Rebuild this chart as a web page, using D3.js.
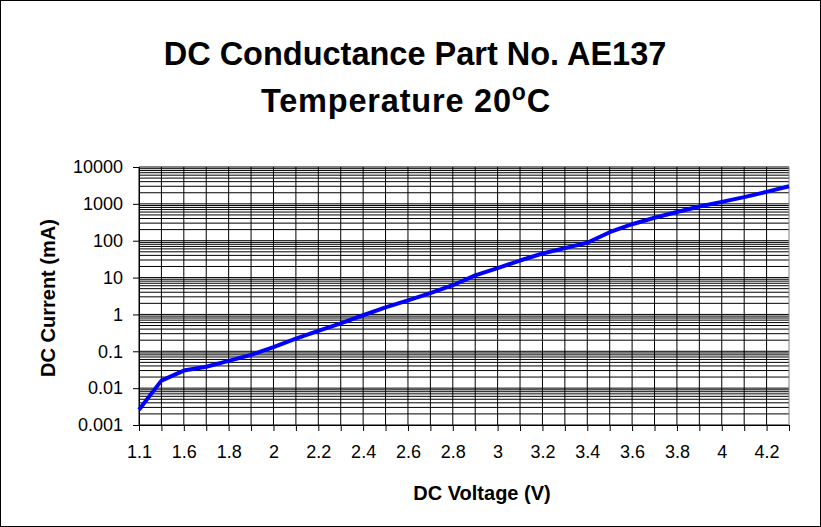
<!DOCTYPE html>
<html>
<head>
<meta charset="utf-8">
<script src="https://cdn.jsdelivr.net/npm/d3@7"></script>
<style>
  body { margin: 0; background: #fff; }
  text { font-family: "Liberation Sans", Arial, sans-serif; fill: #000; }
</style>
</head>
<body>
<div class="chart"></div>
<script>
// DC conductance chart, log current vs voltage

var voltages = ["1.1", "1.4", "1.6", "1.7", "1.8", "1.9", "2", "2.1", "2.2", "2.3",
  "2.4", "2.5", "2.6", "2.7", "2.8", "2.9", "3", "3.1", "3.2", "3.3",
  "3.4", "3.5", "3.6", "3.7", "3.8", "3.9", "4", "4.1", "4.2", "4.3"];

var currents = [0.0026, 0.016, 0.03, 0.038, 0.055, 0.08, 0.13, 0.22, 0.36, 0.57,
  0.95, 1.55, 2.4, 3.8, 6.2, 11.5, 18, 29, 45, 63,
  88, 170, 280, 420, 600, 850, 1130, 1520, 2120, 3000];

var yTickValues = [0.001, 0.01, 0.1, 1, 10, 100, 1000, 10000];
var yTickLabels = ["0.001", "0.01", "0.1", "1", "10", "100", "1000", "10000"];

var svgWidth = 821;
var svgHeight = 527;

var margin = {
  top: 167,
  right: 32,
  bottom: 102,
  left: 139
};

var width = svgWidth - margin.left - margin.right;
var height = svgHeight - margin.top - margin.bottom;

var svg = d3
  .select(".chart")
  .append("svg")
  .attr("width", svgWidth)
  .attr("height", svgHeight);

// outer frame
svg.append("rect")
  .attr("x", 0.5)
  .attr("y", 0.5)
  .attr("width", svgWidth - 1)
  .attr("height", svgHeight - 1)
  .attr("fill", "#fff")
  .attr("stroke", "#000");

var chartGroup = svg.append("g")
  .attr("transform", `translate(${margin.left}, ${margin.top})`);

var xScale = d3.scalePoint()
  .domain(voltages)
  .range([0, width]);

var yScale = d3.scaleLog()
  .domain([0.001, 10000])
  .range([height, 0]);

// horizontal grid: every 1..9 x 10^n
var gridValues = [];
yTickValues.forEach(function (p, i) {
  if (i == yTickValues.length - 1) {
    gridValues.push(p);
    return;
  }
  for (var k = 1; k < 10; k++) gridValues.push(p * k);
});

chartGroup.append("g")
  .selectAll("line")
  .data(gridValues)
  .enter()
  .append("line")
  .attr("x1", 0)
  .attr("x2", width)
  .attr("y1", d => yScale(d))
  .attr("y2", d => yScale(d))
  .attr("stroke", "#000")
  .attr("stroke-width", 1);

// vertical grid at each category
chartGroup.append("g")
  .selectAll("line")
  .data(voltages)
  .enter()
  .append("line")
  .attr("x1", d => xScale(d))
  .attr("x2", d => xScale(d))
  .attr("y1", 0)
  .attr("y2", height)
  .attr("stroke", d => d == voltages[voltages.length - 1] ? "#808080" : "#000")
  .attr("stroke-width", 1);

// axes
var bottomAxis = d3.axisBottom(xScale)
  .tickSizeInner(6)
  .tickSizeOuter(0)
  .tickPadding(14)
  .tickFormat((d, i) => i % 2 == 0 ? d : "");

var leftAxis = d3.axisLeft(yScale)
  .tickValues(yTickValues)
  .tickSizeInner(6)
  .tickSizeOuter(0)
  .tickPadding(10)
  .tickFormat((d, i) => yTickLabels[i]);

var xAxis = chartGroup.append("g")
  .attr("transform", `translate(0, ${height})`)
  .call(bottomAxis);

var yAxis = chartGroup.append("g")
  .call(leftAxis);

[xAxis, yAxis].forEach(function (ax) {
  ax.selectAll("path, line").attr("stroke", "#000");
  ax.selectAll("text")
    .attr("fill", "#000")
    .style("font-size", "18px")
    .style("font-family", "'Liberation Sans', Arial, sans-serif");
});

// data line
var line = d3.line()
  .x((d, i) => xScale(voltages[i]))
  .y(d => yScale(d));

chartGroup.append("path")
  .datum(currents)
  .attr("d", line)
  .attr("fill", "none")
  .attr("stroke", "#0000ff")
  .attr("stroke-width", 4)
  .attr("stroke-linejoin", "round")
  .attr("stroke-linecap", "butt");

// titles
svg.append("text")
  .attr("x", 415)
  .attr("y", 65)
  .attr("text-anchor", "middle")
  .style("font-size", "32.5px")
  .style("font-weight", "bold")
  .text("DC Conductance Part No. AE137");

var t2 = svg.append("text")
  .attr("x", 406)
  .attr("y", 112)
  .attr("text-anchor", "middle")
  .style("font-size", "32.5px")
  .style("font-weight", "bold")
  .style("letter-spacing", "0.8px");
t2.append("tspan").text("Temperature 20");
t2.append("tspan").attr("dy", -12).style("font-size", "23px").text("o");
t2.append("tspan").attr("dy", 12).text("C");

svg.append("text")
  .attr("x", 482)
  .attr("y", 500)
  .attr("text-anchor", "middle")
  .style("font-size", "20px")
  .style("font-weight", "bold")
  .text("DC Voltage (V)");

svg.append("text")
  .attr("transform", `translate(55, ${margin.top + height / 2 + 2}) rotate(-90)`)
  .attr("text-anchor", "middle")
  .style("font-size", "20px")
  .style("font-weight", "bold")
  .text("DC Current (mA)");
</script>
</body>
</html>
